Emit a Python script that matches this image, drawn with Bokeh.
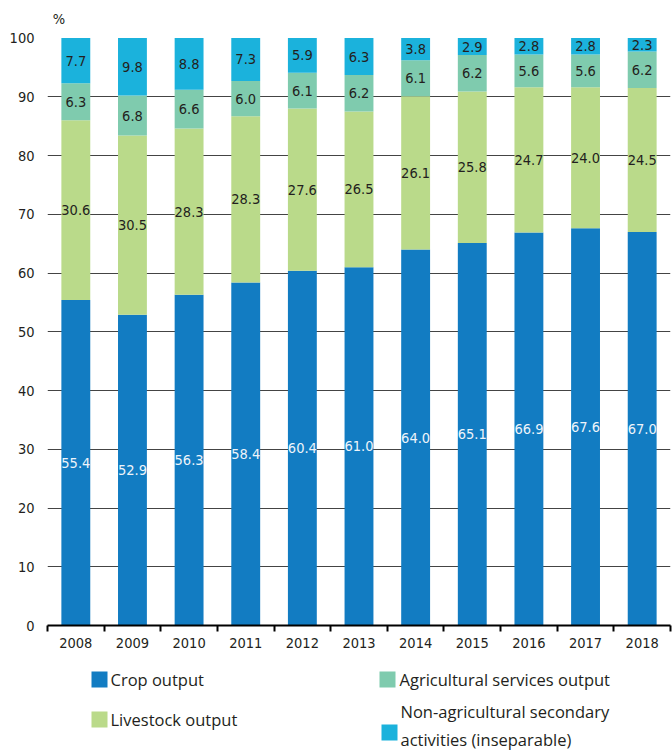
from bokeh.plotting import figure
from bokeh.layouts import column
from bokeh.models import (ColumnDataSource, Range1d, FixedTicker, LabelSet, Label)
from bokeh.embed import file_html
from bokeh.resources import INLINE
from bokeh.core.properties import value

years = ["2008", "2009", "2010", "2011", "2012", "2013", "2014", "2015", "2016", "2017", "2018"]
crop_output = [55.4, 52.9, 56.3, 58.4, 60.4, 61.0, 64.0, 65.1, 66.9, 67.6, 67.0]
livestock_output = [30.6, 30.5, 28.3, 28.3, 27.6, 26.5, 26.1, 25.8, 24.7, 24.0, 24.5]
services_output = [6.3, 6.8, 6.6, 6.0, 6.1, 6.2, 6.1, 6.2, 5.6, 5.6, 6.2]
non_agri_output = [7.7, 9.8, 8.8, 7.3, 5.9, 6.3, 3.8, 2.9, 2.8, 2.8, 2.3]
series_names = ["Crop output", "Livestock output", "Agricultural services output",
                "Non-agricultural secondary\nactivities (inseparable)"]
y_ticks = [0, 10, 20, 30, 40, 50, 60, 70, 80, 90, 100]

colors = ["#127CC2", "#BADA8A", "#7FCBAE", "#1BB2DC"]
label_colors = ["#EEF4FA", "#231F20", "#231F20", "#231F20"]
NUM_FONT = "'DejaVu Sans Condensed', Roboto, sans-serif"
TXT_FONT = "Open Sans"
TEXT_COLOR = "#231F20"
NUM_SIZE = "14.5px"

# layout (pixels)
W = 672
MAIN_H = 655
TOP, BOTTOM, LEFT, RIGHT = 8, 30, 47, 2
PX_PER_100 = 587.5
frame_h = MAIN_H - TOP - BOTTOM
y_end = 100 * frame_h / PX_PER_100

n = len(years)
xs = [i + 0.5 for i in range(n)]

p = figure(width=W, height=MAIN_H, x_range=Range1d(0, n), y_range=Range1d(0, y_end),
           output_backend="svg", toolbar_location=None,
           min_border_left=LEFT, min_border_right=RIGHT, min_border_top=TOP,
           min_border_bottom=BOTTOM)
p.outline_line_color = None
p.background_fill_color = "white"
p.border_fill_color = "white"

p.ygrid.ticker = FixedTicker(ticks=y_ticks[1:-1])
p.ygrid.grid_line_color = "#444444"
p.ygrid.grid_line_width = 1
p.xgrid.visible = False

bottom = [0.0] * n
for vals, color, lc in zip([crop_output, livestock_output, services_output, non_agri_output],
                           colors, label_colors):
    top = [b + v for b, v in zip(bottom, vals)]
    src = ColumnDataSource(dict(x=xs, bottom=bottom, top=top,
                                mid=[(b + t) / 2 for b, t in zip(bottom, top)],
                                text=[f"{v:.1f}" for v in vals]))
    p.vbar(x="x", bottom="bottom", top="top", width=0.51, source=src,
           fill_color=color, line_color=None)
    p.add_layout(LabelSet(x="x", y="mid", text="text", source=src, text_align="center",
                          text_baseline="middle", text_font=value(NUM_FONT),
                          text_font_size=NUM_SIZE, text_color=lc))
    bottom = top

# y axis
p.yaxis.ticker = FixedTicker(ticks=y_ticks)
p.yaxis.axis_line_color = None
p.yaxis.major_tick_line_color = None
p.yaxis.minor_tick_line_color = None
p.yaxis.major_tick_out = 0
p.yaxis.major_label_standoff = 13
p.yaxis.major_label_text_font = NUM_FONT
p.yaxis.major_label_text_font_size = NUM_SIZE
p.yaxis.major_label_text_color = TEXT_COLOR

# x axis
p.xaxis.ticker = FixedTicker(ticks=xs, minor_ticks=list(range(n + 1)))
p.xaxis.major_label_overrides = {x: y for x, y in zip(xs, years)}
p.xaxis.axis_line_color = "black"
p.xaxis.axis_line_width = 2
p.xaxis.major_tick_line_color = None
p.xaxis.major_tick_out = 0
p.xaxis.major_tick_in = 0
p.xaxis.minor_tick_line_color = "black"
p.xaxis.minor_tick_line_width = 2
p.xaxis.minor_tick_out = 6
p.xaxis.minor_tick_in = 0
p.xaxis.major_label_standoff = 6
p.xaxis.major_label_text_font = NUM_FONT
p.xaxis.major_label_text_font_size = NUM_SIZE
p.xaxis.major_label_text_color = TEXT_COLOR

p.add_layout(Label(x=0.2, y=103.2, text="%", text_align="center", text_baseline="middle",
                   text_font=NUM_FONT, text_font_size=NUM_SIZE, text_color=TEXT_COLOR))

# legend figure (coordinates = page pixels; its frame is aligned with the main frame)
LEG_H = 752 - MAIN_H
leg = figure(width=W, height=LEG_H, x_range=Range1d(LEFT, W - RIGHT),
             y_range=Range1d(752, MAIN_H),
             output_backend="svg", toolbar_location=None, min_border=0,
             min_border_left=LEFT, min_border_right=RIGHT)
leg.axis.visible = False
leg.grid.visible = False
leg.outline_line_color = None
leg.background_fill_color = "white"
leg.border_fill_color = "white"

sq_x = [99, 99, 387, 389]
sq_y = [679, 719, 679, 732]
txt_x = [110, 110, 399, 400]
txt_y = [679, 719, 679, 725]
leg.rect(x=sq_x, y=sq_y, width=16, height=16, fill_color=colors, line_color=None)
leg.text(x=txt_x, y=txt_y, text=series_names, text_font=value(TXT_FONT),
         text_font_size="16.5px", text_color=TEXT_COLOR, text_baseline="middle",
         text_align="left", text_line_height=1.2)

open("out.html", "w").write(file_html(column(p, leg, spacing=0), INLINE))
